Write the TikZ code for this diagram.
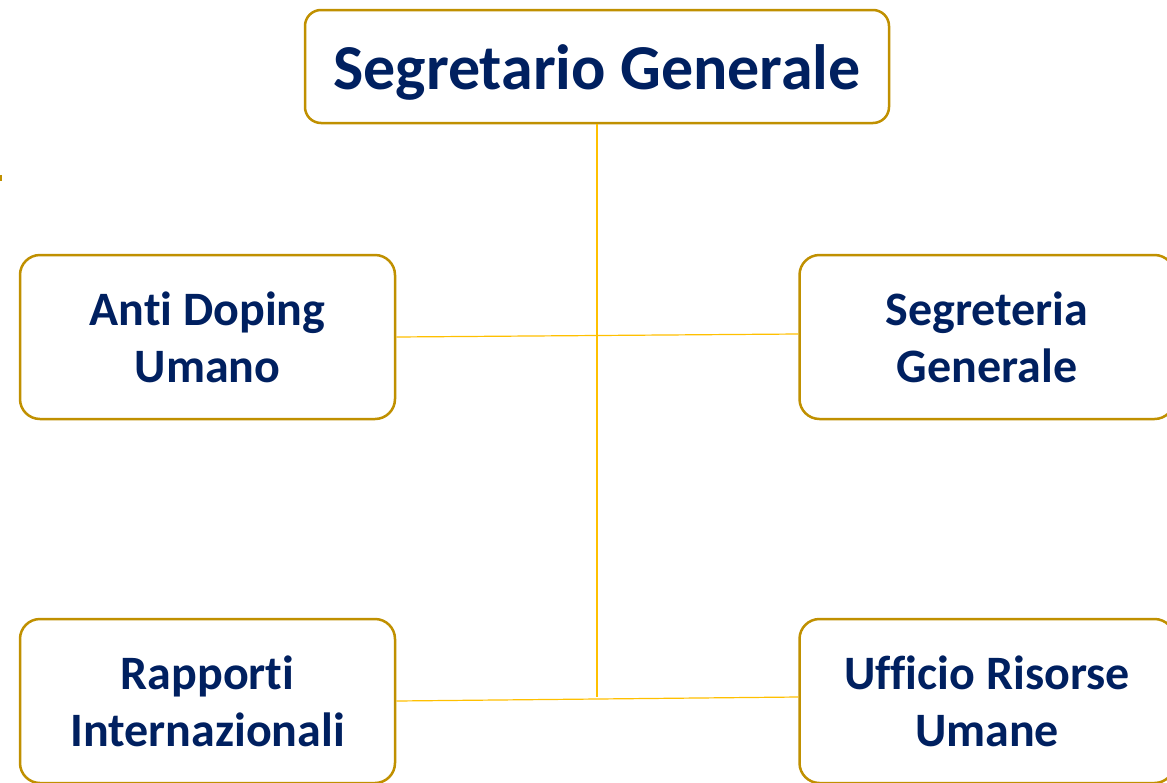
\documentclass[tikz,border=0pt]{standalone}
\usepackage{fontspec}
\setmainfont[Ligatures=NoCommon]{Carlito}
\definecolor{boxgold}{RGB}{192,144,0}
\definecolor{linegold}{RGB}{255,192,0}
\definecolor{navy}{RGB}{0,32,96}
\begin{document}
\begin{tikzpicture}[x=1pt,y=-1pt,
  unitbox/.style={draw=boxgold,line width=2.5pt,rounded corners=20pt,fill=white,
    minimum width=375pt,minimum height=164pt,inner sep=0pt,align=center,
    text=navy,font=\fontsize{48}{57}\selectfont\bfseries},
  topbox/.style={unitbox,minimum width=584pt,minimum height=113pt,rounded corners=16pt,
    font=\fontsize{64}{70}\selectfont\bfseries},
  link/.style={draw=linegold,line width=1.2pt}]
\useasboundingbox[fill=white] (0,0) rectangle (1167,782);
\clip (0,0) rectangle (1167,782);
\node[topbox] (top) at (597,66.5) {\raisebox{-6pt}[\height][\depth]{Segretario Generale}};
\node[unitbox] (ad) at (207.5,337) {Anti Doping\\Umano};
\node[unitbox] (sg) at (987,337) {Segreteria\\Generale};
\node[unitbox] (ri) at (207.5,701) {Rapporti\\Internazionali};
\node[unitbox] (ur) at (987,701) {Ufficio Risorse\\Umane};
\coordinate (vend) at (597,697);
\draw[link] (top.south) -- (vend);
\draw[link] (ad.east) -- ([yshift=3pt]sg.west);
\draw[link] (ri.east) -- ([yshift=4pt]ur.west);
\draw[draw=boxgold,line width=2pt] (0.5,175) -- (0.5,181);
\end{tikzpicture}
\end{document}
